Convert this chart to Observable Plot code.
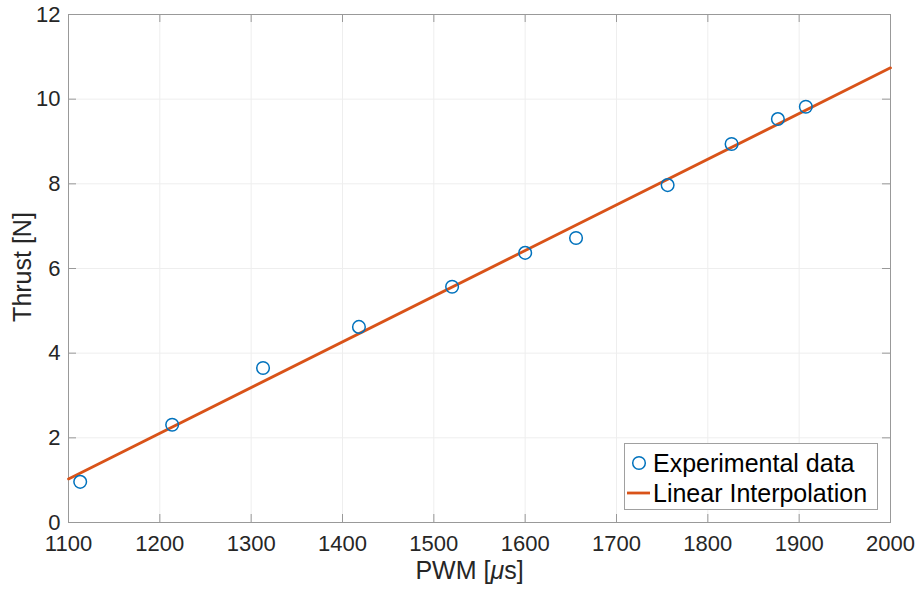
<!DOCTYPE html>
<html>
<head>
<meta charset="utf-8">
<script src="https://cdn.jsdelivr.net/npm/d3@7"></script>
<script src="https://cdn.jsdelivr.net/npm/@observablehq/plot@0.6"></script>
<style>
  html, body { margin: 0; padding: 0; background: white; }
  #wrap { position: relative; width: 917px; height: 589px; font-family: "Liberation Sans", Arial, sans-serif; color: #262626; }
  #xlabel { position: absolute; left: 0; width: 917px; top: 555px; text-align: center; font-size: 25px; line-height: 30px; padding-left: 22px; box-sizing: border-box; }
  #ylabel { position: absolute; left: 22px; top: 267px; font-size: 25px; transform: translate(-50%, -50%) rotate(-90deg); white-space: nowrap; line-height: 30px; }
  #legend { position: absolute; left: 624px; top: 443px; width: 252px; height: 65px; border: 1px solid #a0a0a0; background: white; color: #000; font-size: 25px; }
  .row { position: absolute; left: 0; height: 30px; line-height: 30px; width: 100%; }
  .row svg { position: absolute; left: 0; top: 0; }
  .row span { position: absolute; left: 28px; top: 0; white-space: nowrap; }
</style>
</head>
<body>
<div id="wrap">
  <div id="chart"></div>
  <div id="xlabel">PWM [<i>μ</i>s]</div>
  <div id="ylabel">Thrust [N]</div>
  <div id="legend">
    <div class="row" style="top:4px"><svg width="28" height="30"><circle cx="14" cy="15" r="6.3" fill="none" stroke="#0072BD" stroke-width="1.5"/></svg><span>Experimental data</span></div>
    <div class="row" style="top:34px"><svg width="28" height="30"><line x1="2" x2="25" y1="15" y2="15" stroke="#D95319" stroke-width="2.8"/></svg><span>Linear Interpolation</span></div>
  </div>
</div>
<script>
const pwm = [1112.8, 1213.5, 1313, 1418, 1520, 1600, 1655.7, 1756, 1826, 1876.7, 1907.3];
const thrust = [0.96, 2.31, 3.65, 4.62, 5.57, 6.37, 6.72, 7.97, 8.94, 9.53, 9.82];
const fitPWM = [1100, 2000];
const fitThrust = [1.03, 10.74];
const xTicks = [1100, 1200, 1300, 1400, 1500, 1600, 1700, 1800, 1900, 2000];
const yTicks = [0, 2, 4, 6, 8, 10, 12];

const points = pwm.map((x, i) => ({x, y: thrust[i]}));
const fit = fitPWM.map((x, i) => ({x, y: fitThrust[i]}));

const W = 917, H = 589, mL = 68, mT = 14, mR = 27, mB = 67;
const innerW = W - mL - mR, innerH = H - mT - mB;
const tick = 8;
const axisColor = "#999999";

const chart = Plot.plot({
  width: W, height: H,
  marginLeft: mL, marginTop: mT, marginRight: mR, marginBottom: mB,
  x: {domain: [1100, 2000]},
  y: {domain: [0, 12]},
  style: {fontFamily: "Liberation Sans, Arial, sans-serif", fontSize: "22px", color: "#262626", background: "white"},
  marks: [
    Plot.gridX(xTicks, {stroke: "#eeeeee", strokeOpacity: 1}),
    Plot.gridY(yTicks, {stroke: "#eeeeee", strokeOpacity: 1}),
    Plot.ruleX(xTicks, {stroke: axisColor, insetTop: innerH - tick}),
    Plot.ruleX(xTicks, {stroke: axisColor, insetBottom: innerH - tick}),
    Plot.ruleY(yTicks, {stroke: axisColor, insetLeft: innerW - tick}),
    Plot.ruleY(yTicks, {stroke: axisColor, insetRight: innerW - tick}),
    Plot.frame({stroke: axisColor}),
    Plot.line(fit, {x: "x", y: "y", stroke: "#D95319", strokeWidth: 2.8}),
    Plot.dot(points, {x: "x", y: "y", r: 6.3, stroke: "#0072BD", strokeWidth: 1.5, fill: "none"}),
    Plot.axisX(xTicks, {tickSize: 0, tickPadding: 13, label: null, fill: "#262626", fontSize: 22, tickFormat: d => String(d)}),
    Plot.axisY(yTicks, {tickSize: 0, tickPadding: 8, label: null, fill: "#262626", fontSize: 22, tickFormat: d => String(d)})
  ]
});
document.getElementById("chart").appendChild(chart);
</script>
</body>
</html>
